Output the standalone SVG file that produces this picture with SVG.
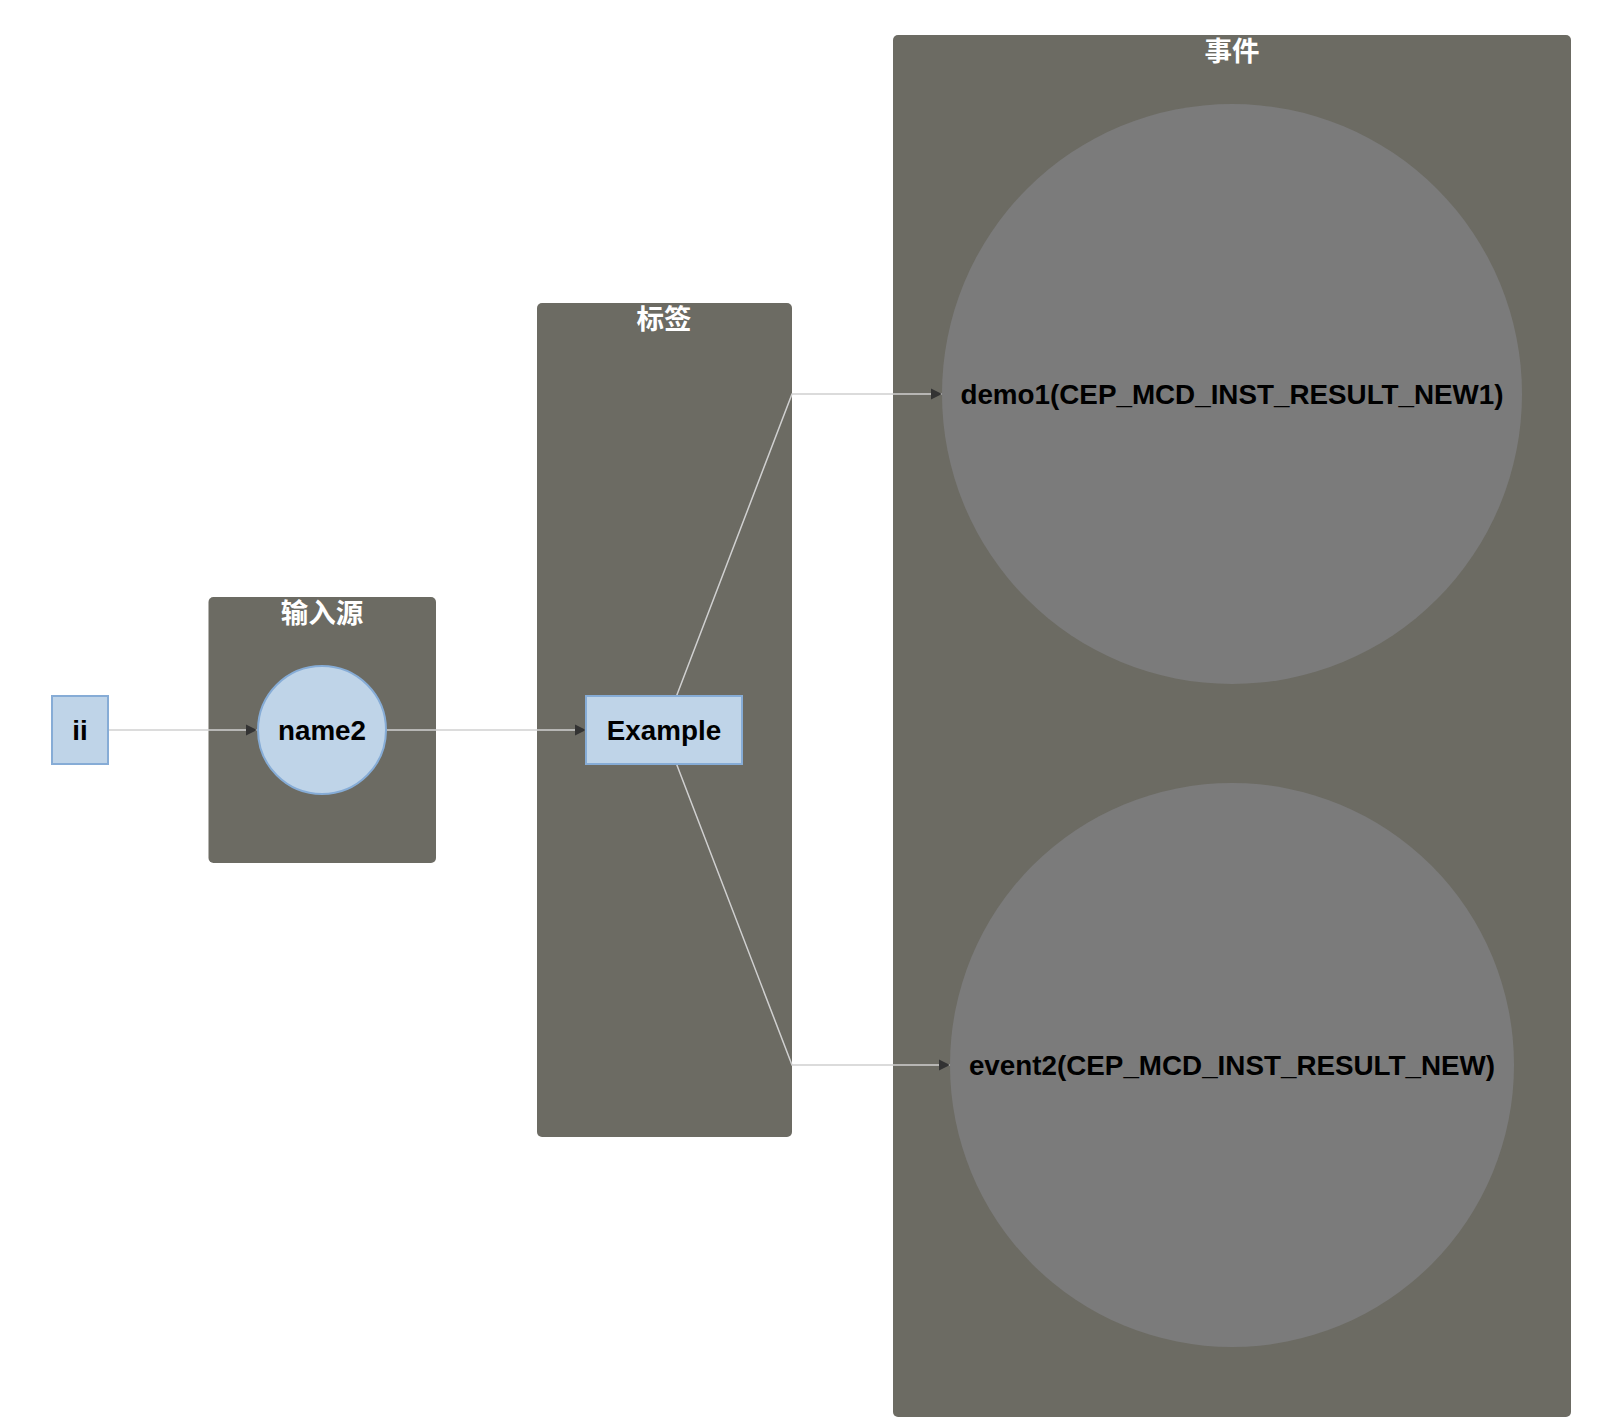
<svg xmlns="http://www.w3.org/2000/svg" width="1600" height="1428" viewBox="0 0 1600 1428">
<defs>
<style>
.grp{fill:#6c6b63;}
.gtitle{font-family:"Liberation Sans","Noto Sans CJK SC",sans-serif;font-weight:bold;font-size:27.5px;fill:#ffffff;text-anchor:middle;}
.node{fill:#bfd4e8;stroke:#86acd6;stroke-width:2;}
.big{fill:#7b7b7b;}
.lbl{font-family:"Liberation Sans",Arial,sans-serif;font-weight:bold;font-size:27.8px;fill:#000;text-anchor:middle;}
.edge{fill:none;stroke:#d0d0d0;stroke-width:1.5;}
</style>
<marker id="arr" viewBox="0 0 10 10" refX="10" refY="5" markerWidth="11" markerHeight="12" markerUnits="userSpaceOnUse" orient="auto">
<path d="M0,0 L10,5 L0,10 z" fill="#333333"/>
</marker>
</defs>
<rect width="1600" height="1428" fill="#ffffff"/>
<g id="group-input">
<rect class="grp" x="208.5" y="597" width="227.5" height="266" rx="5"/>
<text class="gtitle" x="322" y="623">输入源</text>
</g>
<g id="group-tag">
<rect class="grp" x="537" y="303" width="255" height="834" rx="5"/>
<text class="gtitle" x="664" y="329">标签</text>
</g>
<g id="group-event">
<rect class="grp" x="893" y="35" width="678" height="1382" rx="5"/>
<text class="gtitle" x="1232" y="61">事件</text>
</g>
<g id="node-demo1">
<circle class="big" cx="1232" cy="394" r="290"/>
<text class="lbl" x="1232" y="404">demo1(CEP_MCD_INST_RESULT_NEW1)</text>
</g>
<g id="node-event2">
<circle class="big" cx="1232" cy="1065" r="282"/>
<text class="lbl" x="1232" y="1075">event2(CEP_MCD_INST_RESULT_NEW)</text>
</g>
<g id="connectors">
<path class="edge" d="M108,730 L257,730" marker-end="url(#arr)"/>
<path class="edge" d="M387,730 L586,730" marker-end="url(#arr)"/>
<path class="edge" d="M676.5,696 L792,394 L942,394" marker-end="url(#arr)"/>
<path class="edge" d="M676.5,764 L792,1065 L950,1065" marker-end="url(#arr)"/>
</g>
<g id="node-ii">
<rect class="node" x="52" y="696" width="56" height="68"/>
<text class="lbl" x="80" y="740">ii</text>
</g>
<g id="node-name2">
<ellipse class="node" cx="322" cy="730" rx="64" ry="64"/>
<text class="lbl" x="322" y="740">name2</text>
</g>
<g id="node-example">
<rect class="node" x="586" y="696" width="156" height="68"/>
<text class="lbl" x="664" y="740">Example</text>
</g>
</svg>
